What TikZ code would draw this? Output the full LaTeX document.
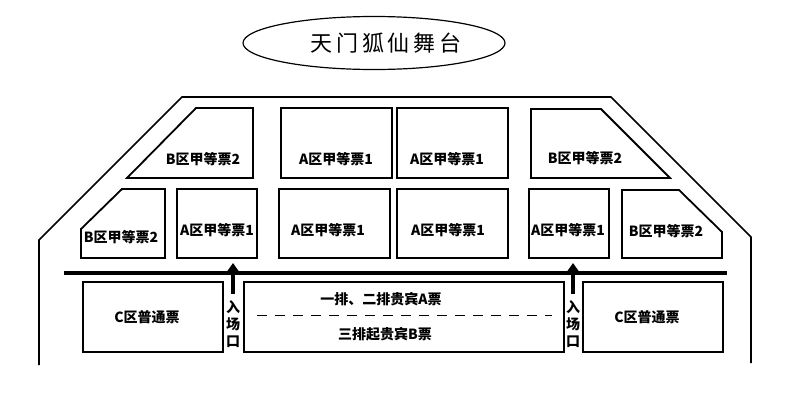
\documentclass[tikz,border=0pt]{standalone}
\usepackage{fontspec}
\newfontfamily\cjk{Noto Sans CJK SC}
\newfontfamily\cjktitle[LetterSpace=18]{Noto Sans CJK SC}
\usetikzlibrary{shapes.geometric,arrows.meta}
\begin{document}
\begin{tikzpicture}[>=stealth,x=1pt,y=-1pt,
		seat/.style={line width=1.8pt,line join=miter},
		lbl/.style={inner sep=0pt,font=\cjk\bfseries\fontsize{14}{14}\selectfont},
		entry/.style={line width=4.5pt,-{Triangle[width=12pt,length=9pt]}}]
		\useasboundingbox (0,0) rectangle (800,408);
		\node[draw,ellipse,line width=1.2pt,minimum width=262,minimum height=53] (stage) at (374,43) {};
		\node[inner sep=0pt,font=\cjktitle\fontsize{22}{22}\selectfont] (title) at (386,43) {天门狐仙舞台};
		\draw[line width=1.6pt] (39,365) -- (39,240) -- (182,97) -- (611,97) -- (751,237) -- (751,363);
		\draw[line width=3.5pt] (64,273) -- (727,273);
		
		\draw[seat] (196,108) -- (253,108) -- (253,178) -- (127,178) -- cycle;
		\draw[seat] (281,108) rectangle (392,178);
		\draw[seat] (397,108) rectangle (508,178);
		\draw[seat] (531,109) -- (601,109) -- (670,178) -- (531,178) -- cycle;
		\node[lbl] (b1) at (203,159) {B区甲等票2};
		\node[lbl] (a1) at (336,159) {A区甲等票1};
		\node[lbl] (a2) at (447,159) {A区甲等票1};
		\node[lbl] (b2) at (585,158) {B区甲等票2};
		
		\draw[seat] (122,189) -- (165,189) -- (165,258) -- (81,258) -- (81,229) -- cycle;
		\draw[seat] (177,189) rectangle (257,258);
		\draw[seat] (279,189) rectangle (390,258);
		\draw[seat] (397,189) rectangle (508,258);
		\draw[seat] (529,189) rectangle (609,258);
		\draw[seat] (622,190) -- (679,190) -- (722,232) -- (722,258) -- (622,258) -- cycle;
		\node[lbl] (b3) at (121,237) {B区甲等票2};
		\node[lbl] (a3) at (217,230) {A区甲等票1};
		\node[lbl] (a4) at (328,230) {A区甲等票1};
		\node[lbl] (a5) at (448,230) {A区甲等票1};
		\node[lbl] (a6) at (568,230) {A区甲等票1};
		\node[lbl] (b4) at (666,231) {B区甲等票2};
		
		\draw[seat] (83,282) rectangle (223,352);
		\draw[seat] (244,282) rectangle (564,352);
		\draw[seat] (583,282) rectangle (723,352);
		\draw[line width=1pt,dash pattern=on 10pt off 8pt] (257,315) -- (552,315);
		\node[lbl] (c1) at (147,317) {C区普通票};
		\node[lbl] (vipa) at (381,299) {一排、二排贵宾A票};
		\node[lbl] (vipb) at (385,334) {三排起贵宾B票};
		\node[lbl] (c2) at (647,317) {C区普通票};
		
		\coordinate (inL) at (233,294);
		\coordinate (tipL) at (233,263);
		\coordinate (inR) at (573,294);
		\coordinate (tipR) at (573,263);
		\draw[entry] (inL) -- (tipL);
		\draw[entry] (inR) -- (tipR);
		\node[lbl,align=center,font=\cjk\bfseries\fontsize{14}{17}\selectfont] (doorL) at (233,324) {入\\场\\口};
		\node[lbl,align=center,font=\cjk\bfseries\fontsize{14}{17}\selectfont] (doorR) at (573,324) {入\\场\\口};
		
\end{tikzpicture}
\end{document}
